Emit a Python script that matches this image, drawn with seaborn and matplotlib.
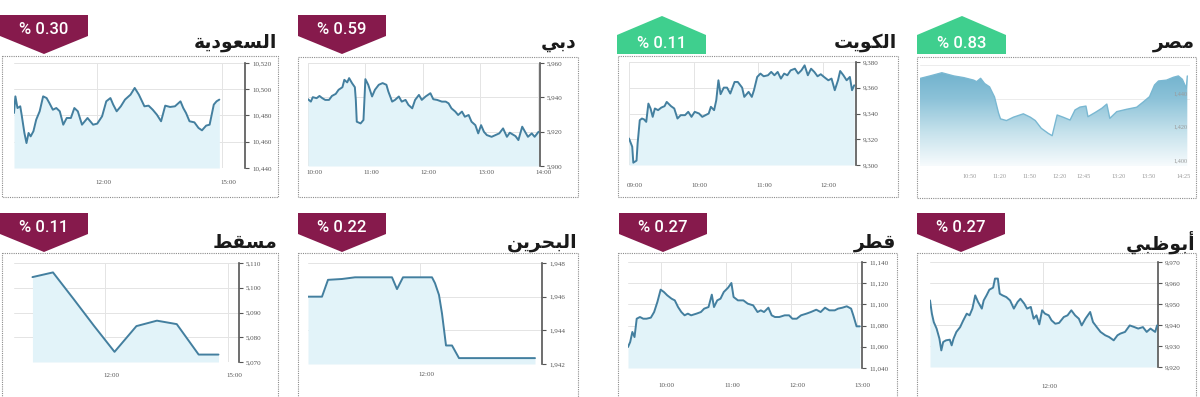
import numpy as np
import pandas as pd
import matplotlib
matplotlib.use("Agg")
import matplotlib.pyplot as plt
import seaborn as sns
from matplotlib.patches import Polygon, Rectangle
from matplotlib.transforms import ScaledTranslation
from matplotlib.colors import LinearSegmentedColormap

sns.set_theme(style="white")
plt.rcParams['font.family'] = ['DejaVu Sans']

# ---------------- data ----------------
# Saudi (minutes since 10:00)
sa_t = [0, 2, 5, 9, 11, 15, 18, 21, 24, 28, 32, 37, 42, 47, 51, 56, 61, 66, 71, 76, 82, 87, 92, 98, 106, 114,
        120, 127, 133, 139, 143, 148, 154, 160, 168, 174, 180, 188, 194, 200, 206, 212, 218, 225, 232, 240,
        244, 248, 253, 260, 266, 271, 277, 282, 288, 292, 296]
sa_v = [10481.9, 10494.6, 10485.7, 10487.0, 10480.6, 10466.7, 10459.0, 10466.7, 10464.1, 10468.0, 10476.8,
        10483.2, 10494.6, 10493.3, 10489.5, 10484.4, 10485.7, 10483.2, 10473.0, 10478.1, 10478.1, 10485.7,
        10483.2, 10473.0, 10478.1, 10473.0, 10473.8, 10479.4, 10490.8, 10493.3, 10488.3, 10483.2, 10487.0,
        10492.1, 10495.9, 10501.0, 10495.9, 10487.0, 10487.5, 10484.4, 10480.6, 10475.6, 10487.5, 10486.5,
        10487.0, 10490.8, 10485.7, 10481.9, 10475.6, 10474.8, 10470.5, 10468.7, 10472.3, 10473.0, 10488.3,
        10490.8, 10492.1]

# Dubai (minutes since 10:00)
db_t = [0, 3, 5, 9, 12, 15, 18, 22, 25, 29, 32, 36, 38, 41, 43, 46, 49, 50, 51, 55, 58, 59, 60, 63, 67, 70,
        74, 78, 82, 84, 88, 91, 95, 98, 102, 105, 109, 112, 116, 119, 123, 128, 131, 135, 140, 144, 147, 150,
        154, 157, 161, 164, 168, 171, 175, 178, 181, 184, 187, 192, 196, 200, 204, 208, 211, 217, 220, 224,
        227, 230, 234, 237, 241]
db_v = [5938.9, 5937.5, 5940.1, 5939.5, 5940.8, 5939.5, 5938.5, 5938.5, 5940.8, 5942.0, 5944.4, 5945.9,
        5950.2, 5948.7, 5951.2, 5948.3, 5945.9, 5938.5, 5925.8, 5924.8, 5926.8, 5938.5, 5950.6, 5947.3,
        5940.5, 5944.4, 5947.3, 5948.3, 5947.3, 5943.4, 5937.5, 5938.5, 5940.5, 5937.5, 5938.5, 5935.6,
        5933.6, 5938.5, 5941.4, 5938.5, 5940.5, 5942.4, 5938.9, 5938.5, 5937.5, 5937.5, 5936.5, 5933.6,
        5931.7, 5929.7, 5931.7, 5928.7, 5929.7, 5925.8, 5923.8, 5919.0, 5923.8, 5919.9, 5918.0, 5917.0,
        5918.0, 5919.0, 5921.9, 5917.0, 5919.4, 5917.4, 5915.1, 5922.9, 5919.9, 5917.0, 5919.0, 5917.0,
        5919.9]

# Kuwait (minutes since 09:00)
kw_t = [0, 3, 4, 7, 8, 10, 12, 14, 16, 18, 20, 22, 24, 27, 30, 33, 35, 39, 42, 45, 48, 52, 55, 58, 61, 65,
        68, 71, 74, 76, 79, 81, 83, 85, 88, 91, 94, 98, 101, 105, 107, 111, 114, 116, 119, 122, 125, 129,
        132, 135, 138, 141, 144, 147, 150, 154, 157, 160, 163, 166, 169, 172, 175, 178, 181, 185, 188, 191,
        194, 196, 199, 202, 205, 207, 209]
kw_v = [9320.6, 9314.2, 9301.8, 9303.4, 9316.8, 9334.8, 9336.1, 9335.4, 9333.5, 9347.7, 9343.9, 9337.4,
        9343.9, 9342.6, 9344.6, 9345.7, 9349.0, 9345.7, 9343.9, 9336.1, 9338.7, 9338.7, 9341.3, 9337.4,
        9341.3, 9340.0, 9337.4, 9338.7, 9340.0, 9345.2, 9342.6, 9350.3, 9365.8, 9355.0, 9360.1, 9360.1,
        9355.5, 9364.5, 9364.5, 9360.1, 9352.9, 9356.8, 9352.9, 9358.1, 9368.4, 9371.0, 9368.9, 9369.7,
        9372.3, 9369.7, 9372.3, 9367.1, 9371.0, 9369.7, 9373.5, 9374.8, 9371.0, 9373.5, 9377.4, 9369.7,
        9374.8, 9372.3, 9368.9, 9370.5, 9368.4, 9365.8, 9367.1, 9358.1, 9365.8, 9373.0, 9369.7, 9365.8,
        9368.4, 9358.1, 9361.9]

# Egypt (minutes since 10:00)
eg_t = [0, 10, 22, 34, 44, 54, 57, 61, 65, 70, 75, 79, 81, 87, 94, 104, 111, 116, 122, 129, 133, 138, 144,
        151, 156, 161, 167, 169, 176, 183, 188, 191, 198, 208, 218, 225, 231, 236, 240, 248, 255, 260, 264,
        268, 269]
eg_v = [1452.0, 1453.5, 1455.4, 1453.5, 1452.5, 1451.0, 1450.1, 1452.1, 1449.0, 1447.0, 1441.0, 1431.5,
        1428.0, 1427.0, 1429.0, 1431.0, 1429.0, 1427.0, 1422.4, 1419.4, 1418.0, 1430.3, 1429.0, 1427.3,
        1433.3, 1435.0, 1435.6, 1429.3, 1431.7, 1434.3, 1436.8, 1428.3, 1432.3, 1433.7, 1434.9, 1438.2,
        1441.2, 1448.1, 1450.5, 1451.0, 1452.7, 1453.5, 1451.5, 1446.2, 1453.5]
eg_ticks = [50, 80, 110, 140, 165, 200, 230, 265]
eg_tick_labels = ["10:50", "11:20", "11:50", "12:20", "12:45", "13:20", "13:50", "14:25"]

# Muscat (minutes since 10:00)
ms_t = [14, 44, 74, 104, 134, 166, 196, 225, 257, 286]
ms_v = [5104.3, 5106.2, 5095.5, 5084.6, 5074.1, 5084.5, 5086.7, 5085.3, 5073.0, 5073.0]

# Bahrain (minutes since 10:00)
bh_t = [8, 22, 28, 42, 55, 92, 97, 103, 132, 135, 139, 142, 146, 152, 159, 235]
bh_v = [1946.0, 1946.0, 1947.0, 1947.05, 1947.15, 1947.15, 1946.45, 1947.15, 1947.15, 1946.8, 1946.1,
        1945.0, 1943.1, 1943.1, 1942.35, 1942.35]

# Qatar (minutes since 09:30)
qa_t = [0, 2, 4, 6, 8, 11, 14, 17, 21, 24, 27, 30, 33, 36, 40, 43, 46, 49, 52, 55, 58, 63, 67, 70, 74, 77,
        79, 82, 85, 88, 92, 95, 97, 101, 106, 110, 115, 119, 122, 125, 129, 132, 135, 139, 144, 148, 151,
        155, 159, 164, 168, 173, 177, 181, 185, 190, 193, 197, 201, 205, 207, 210, 213]
qa_v = [11059.8, 11064.5, 11074.0, 11069.2, 11086.5, 11088.1, 11086.5, 11086.5, 11087.5, 11092.8, 11102.3,
        11113.9, 11111.7, 11108.6, 11105.4, 11103.8, 11097.5, 11092.8, 11089.7, 11091.3, 11089.7, 11091.3,
        11092.8, 11096.0, 11097.5, 11109.2, 11097.5, 11103.8, 11105.4, 11111.7, 11115.8, 11120.2, 11107.0,
        11103.8, 11103.8, 11100.7, 11099.1, 11092.8, 11094.4, 11092.8, 11096.9, 11089.7, 11088.1, 11088.1,
        11089.7, 11089.7, 11086.5, 11086.5, 11089.7, 11091.3, 11092.8, 11095.0, 11092.8, 11096.9, 11094.4,
        11094.4, 11096.0, 11096.9, 11098.2, 11096.0, 11089.7, 11079.3, 11079.3]

# Abu Dhabi (minutes since 10:00)
ad_t = [0, 2, 4, 7, 10, 12, 14, 17, 21, 23, 25, 28, 32, 35, 39, 42, 45, 48, 51, 55, 57, 60, 63, 67, 69, 72,
        74, 77, 81, 85, 89, 93, 96, 100, 103, 107, 110, 113, 116, 119, 122, 126, 129, 133, 137, 142, 146,
        150, 154, 158, 161, 165, 170, 173, 177, 181, 186, 190, 195, 199, 202, 207, 212, 217, 221, 226, 230,
        234, 239, 241]
ad_v = [9951.7, 9945.4, 9941.4, 9938.3, 9933.5, 9927.9, 9931.9, 9932.7, 9933.0, 9930.3, 9933.5, 9936.7,
        9939.0, 9941.9, 9945.4, 9944.6, 9947.8, 9954.1, 9951.0, 9947.8, 9951.7, 9954.1, 9956.8, 9957.8,
        9962.1, 9962.1, 9954.9, 9954.1, 9953.3, 9951.7, 9947.8, 9951.0, 9952.5, 9950.2, 9947.8, 9948.6,
        9943.0, 9944.6, 9940.3, 9947.0, 9945.4, 9944.6, 9942.2, 9940.6, 9941.0, 9943.8, 9944.6, 9947.0,
        9944.6, 9943.0, 9939.8, 9943.0, 9946.2, 9941.4, 9939.0, 9936.7, 9935.1, 9934.3, 9932.7, 9935.1,
        9935.9, 9936.7, 9939.8, 9939.0, 9938.3, 9939.0, 9936.7, 9938.3, 9936.7, 9939.8]

titles = ["السعودية", "دبي", "الكويت", "مصر", "مسقط", "البحرين", "قطر", "أبوظبي"]
changes = ["% 0.30", "% 0.59", "% 0.11", "% 0.83", "% 0.11", "% 0.22", "% 0.27", "% 0.27"]
directions = ["down", "down", "up", "up", "down", "down", "down", "down"]

# ---------------- Arabic shaping (presentation forms, visual order) ----------------
FORMS = {
    'ا': ('\uFE8D', '\uFE8E', None, None), 'أ': ('\uFE83', '\uFE84', None, None),
    'ب': ('\uFE8F', '\uFE90', '\uFE91', '\uFE92'), 'ة': ('\uFE93', '\uFE94', None, None),
    'ت': ('\uFE95', '\uFE96', '\uFE97', '\uFE98'), 'ح': ('\uFEA1', '\uFEA2', '\uFEA3', '\uFEA4'),
    'د': ('\uFEA9', '\uFEAA', None, None), 'ر': ('\uFEAD', '\uFEAE', None, None),
    'س': ('\uFEB1', '\uFEB2', '\uFEB3', '\uFEB4'), 'ص': ('\uFEB9', '\uFEBA', '\uFEBB', '\uFEBC'),
    'ط': ('\uFEC1', '\uFEC2', '\uFEC3', '\uFEC4'), 'ظ': ('\uFEC5', '\uFEC6', '\uFEC7', '\uFEC8'),
    'ع': ('\uFEC9', '\uFECA', '\uFECB', '\uFECC'), 'ق': ('\uFED5', '\uFED6', '\uFED7', '\uFED8'),
    'ك': ('\uFED9', '\uFEDA', '\uFEDB', '\uFEDC'), 'ل': ('\uFEDD', '\uFEDE', '\uFEDF', '\uFEE0'),
    'م': ('\uFEE1', '\uFEE2', '\uFEE3', '\uFEE4'), 'ن': ('\uFEE5', '\uFEE6', '\uFEE7', '\uFEE8'),
    'و': ('\uFEED', '\uFEEE', None, None), 'ي': ('\uFEF1', '\uFEF2', '\uFEF3', '\uFEF4'),
}


def shape_ar(word):
    out = []
    n = len(word)
    for i, c in enumerate(word):
        iso, fin, ini, med = FORMS[c]
        pj = i > 0 and FORMS[word[i - 1]][2] is not None
        nj = i < n - 1 and ini is not None
        out.append(med if (pj and nj) else fin if pj else ini if nj else iso)
    return ''.join(reversed(out))


# ---------------- figure ----------------
W, H = 1200, 397
fig = plt.figure(figsize=(W / 100, H / 100), dpi=100)
fig.patch.set_facecolor("white")

LINE = "#437f9f"
FILL = "#e2f3f9"
GRID = "#e4e4e4"
TICKC = "#555555"


def add_ax(x0, x1, ytop, ybot):
    return fig.add_axes([x0 / W, 1 - ybot / H, (x1 - x0) / W, (ybot - ytop) / H])


def fmt(v):
    return f"{v:,}"


def panel(rect, t, v, xlim, ylim, yticks, xticks, xlabels, xpad):
    ax = add_ax(*rect)
    df = pd.DataFrame({"t": t, "v": v})
    ax.fill_between(df["t"], df["v"], ylim[0], color=FILL, lw=0, zorder=1)
    sns.lineplot(data=df, x="t", y="v", ax=ax, color=LINE, lw=1.4, zorder=3)
    ax.set_xlim(*xlim)
    ax.set_ylim(*ylim)
    ax.set_xlabel("")
    ax.set_ylabel("")
    for s in ["left", "top", "bottom"]:
        ax.spines[s].set_visible(False)
    ax.spines["right"].set_color("#555555")
    ax.spines["right"].set_linewidth(1.2)
    ax.yaxis.tick_right()
    ax.set_yticks(yticks)
    ax.set_yticklabels([fmt(y) for y in yticks])
    ax.set_xticks(xticks)
    ax.set_xticklabels(xlabels)
    ax.tick_params(axis="y", direction="out", length=3, width=0.8, color="#555555", pad=2,
                   labelsize=5, labelcolor=TICKC)
    ax.tick_params(axis="x", length=0, pad=xpad, labelsize=5, labelcolor=TICKC)
    for lab in ax.get_yticklabels() + ax.get_xticklabels():
        lab.set_fontfamily("Liberation Serif")
    off = ScaledTranslation(6 / 100, 0, fig.dpi_scale_trans)
    for lab in ax.get_xticklabels():
        lab.set_transform(lab.get_transform() + off)
    ax.grid(True, color=GRID, lw=0.7)
    ax.set_axisbelow(True)
    ax.set_facecolor("white")
    return ax


# Top row
panel((14, 245, 63, 168), sa_t, sa_v, (0, 333), (10440, 10520), [10440, 10460, 10480, 10500, 10520],
      [120, 300], ["12:00", "15:00"], 9)
panel((308, 540, 63, 166), db_t, db_v, (0, 242.6), (5900, 5960), [5900, 5920, 5940, 5960],
      [0, 60, 120, 180, 240], ["10:00", "11:00", "12:00", "13:00", "14:00"], 3)
panel((629, 856, 62, 165), kw_t, kw_v, (0, 210.7), (9300, 9380), [9300, 9320, 9340, 9360, 9380],
      [0, 60, 120, 180], ["09:00", "10:00", "11:00", "12:00"], 13)
# Bottom row
panel((14, 239, 263, 362), ms_t, ms_v, (-13, 316), (5070, 5110), [5070, 5080, 5090, 5100, 5110],
      [120, 300], ["12:00", "15:00"], 8)
panel((308, 542, 263, 364), bh_t, bh_v, (8, 242), (1942, 1948), [1942, 1944, 1946, 1948],
      [120], ["12:00"], 6)
panel((628, 862, 262, 368), qa_t, qa_v, (0, 215), (11040, 11140), [11040, 11060, 11080, 11100, 11120, 11140],
      [30, 90, 150, 210], ["10:00", "11:00", "12:00", "13:00"], 11)
panel((930, 1158, 262, 367), ad_t, ad_v, (0, 242), (9920, 9970), [9920, 9930, 9940, 9950, 9960, 9970],
      [120], ["12:00"], 12)

# Egypt panel (different style: gradient area, no spines)
axe = add_ax(920, 1190, 65, 166)
eg_df = pd.DataFrame({"t": eg_t, "v": eg_v})
axe.set_xlim(0, 271.7)
axe.set_ylim(1400, 1460)
poly = axe.fill_between(eg_df["t"], eg_df["v"], 1400, color="none", lw=0)
cmap = LinearSegmentedColormap.from_list("eg", ["#f7fbfd", "#c6e2ec", "#8cc2d8", "#6aaecb"])
grad = np.linspace(0, 1, 256).reshape(-1, 1)
im = axe.imshow(grad, extent=[0, 271.7, 1400, 1460], origin="lower", aspect="auto", cmap=cmap,
                vmin=0, vmax=1, zorder=1)
im.set_clip_path(poly.get_paths()[0], transform=axe.transData)
sns.lineplot(data=eg_df, x="t", y="v", ax=axe, color="#7ab8d2", lw=1.0, zorder=3)
axe.set_xlabel("")
axe.set_ylabel("")
for s in axe.spines.values():
    s.set_visible(False)
axe.set_yticks([1400, 1440, 1460])
axe.set_yticklabels([])
axe.tick_params(axis="both", length=0)
axe.set_xticks(eg_ticks)
axe.set_xticklabels(eg_tick_labels)
axe.tick_params(axis="x", pad=6, labelsize=4.5, labelcolor="#9a9a9a")
for lab in axe.get_xticklabels():
    lab.set_fontfamily("Liberation Serif")
axe.grid(True, axis="y", color="#ececec", lw=0.7)
axe.grid(False, axis="x")
axe.set_axisbelow(True)
for yv in [1400, 1420, 1440]:
    axe.text(0.965, yv + 1.5, fmt(yv), transform=axe.get_yaxis_transform(), ha="center", va="bottom",
             fontsize=4.5, color="#9a9a9a", family="Liberation Serif")

# ---------------- overlay: boxes, badges, titles ----------------
ov = fig.add_axes([0, 0, 1, 1], zorder=10)
ov.set_xlim(0, W)
ov.set_ylim(H, 0)
ov.axis("off")
ov.patch.set_visible(False)

boxes = [(2, 56, 278, 197), (298, 57, 578, 197), (618, 56, 898, 197), (917, 57, 1196, 198),
         (2, 253, 278, 400), (298, 253, 578, 400), (618, 253, 897, 400), (917, 253, 1196, 400)]
for (x0, y0, x1, y1) in boxes:
    ov.add_patch(Rectangle((x0, y0), x1 - x0, y1 - y0, fill=False, ec="#8c8c8c", lw=0.8,
                           ls=(0, (1, 1)), zorder=1))

badge_x = [0, 298, 617, 917, 0, 298, 619, 917]
MAROON = "#861a4c"
GREEN = "#3fcf8e"
for i, (bx, txt, d) in enumerate(zip(badge_x, changes, directions)):
    row_off = 0 if i < 4 else 198
    if d == "down":
        y0 = 15 + row_off
        pts = [(bx, y0), (bx + 88, y0), (bx + 88, y0 + 21), (bx + 44, y0 + 39), (bx, y0 + 21)]
        ov.add_patch(Polygon(pts, closed=True, fc=MAROON, ec="none", zorder=5))
        ov.text(bx + 44, y0 + 15, txt, ha="center", va="center", color="white", fontsize=12,
                family="Roboto", fontweight="medium", zorder=6)
    else:
        pts = [(bx, 54 + row_off), (bx, 35 + row_off), (bx + 45, 16 + row_off), (bx + 89, 35 + row_off),
               (bx + 89, 54 + row_off)]
        ov.add_patch(Polygon(pts, closed=True, fc=GREEN, ec="none", zorder=5))
        ov.text(bx + 45, 43 + row_off, txt, ha="center", va="center", color="white", fontsize=12,
                family="Roboto", fontweight="medium", zorder=6)

for i, (ttl, b) in enumerate(zip(titles, boxes)):
    yc = 43 if i < 4 else 242
    ov.text(b[2] - 1, yc, shape_ar(ttl), ha="right", va="center", fontsize=13.5, fontweight="bold",
            color="#1a1a1a", family="DejaVu Sans", zorder=6)

fig.savefig("out.png", dpi=100, facecolor="white")
